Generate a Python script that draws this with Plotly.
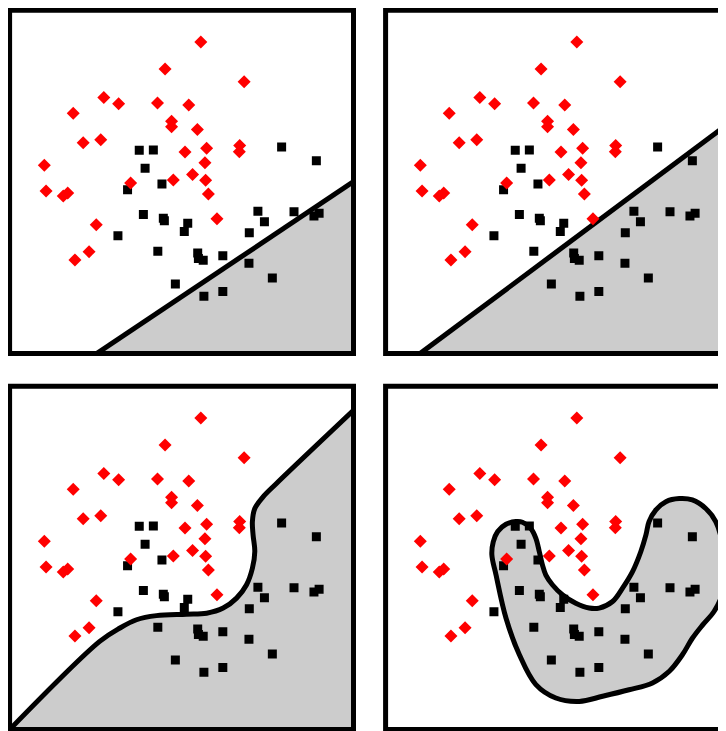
import plotly.graph_objects as go

# ---- data (panel units: frame spans 0..100 in x and y) ----
red_x = [55.6, 45.2, 68.2, 27.4, 31.7, 43.0, 52.1, 18.5, 47.1, 47.1, 54.6, 21.4, 26.5, 66.9,
         66.8, 51.0, 57.3, 10.1, 56.8, 53.2, 47.6, 57.0, 35.2, 10.6, 15.6, 16.9, 57.8, 60.3,
         25.2, 23.1, 19.0]
red_y = [90.8, 82.9, 79.2, 74.6, 72.8, 73.0, 72.4, 70.0, 67.7, 66.1, 65.3, 61.4, 62.3, 60.6,
         58.8, 58.7, 59.8, 54.9, 55.6, 52.2, 50.6, 50.5, 49.7, 47.4, 45.9, 46.8, 46.5, 39.3,
         37.5, 29.7, 27.3]

black_x = [37.7, 41.8, 39.4, 44.3, 34.3, 79.1, 89.2, 38.9, 44.7, 45.0, 51.8, 50.8, 31.5, 72.2,
           74.1, 69.7, 82.7, 88.5, 90.0, 43.1, 54.7, 54.9, 56.3, 62.0, 69.6, 76.4, 48.2, 56.5,
           62.0]
black_y = [59.2, 59.3, 54.0, 49.4, 47.7, 60.2, 56.2, 40.5, 39.4, 38.7, 38.0, 35.6, 34.3, 41.5,
           38.4, 35.2, 41.3, 40.1, 40.9, 29.8, 29.3, 27.7, 27.2, 28.5, 26.3, 22.0, 20.3, 16.7,
           18.1]

# decision boundaries
line1_x = [25.3, 100.0]
line1_y = [0.0, 50.1]
line2_x = [10.0, 100.0]
line2_y = [0.0, 67.2]
curve_x = [0.0, 26.2, 32.1, 36.9, 42.7, 51.4, 57.3, 62.1, 66.0, 68.9, 70.6, 71.3, 70.8,
           70.6, 71.3, 73.7, 77.6, 100.0]
curve_y = [0.0, 25.7, 29.6, 32.0, 33.2, 33.6, 33.9, 35.4, 38.3, 42.2, 47.0, 51.9, 56.7,
           60.6, 64.4, 67.8, 71.7, 93.0]
blob_x = [56.3, 49.5, 43.7, 38.9, 35.0, 32.1, 30.9, 31.3, 32.6, 35.0, 37.9, 39.8, 42.2, 43.7,
          44.7, 45.6, 46.6, 48.5, 51.5, 55.3, 59.2, 62.1, 66.0, 68.9, 71.8, 74.2, 75.7, 76.6,
          78.6, 81.5, 85.4, 89.2, 93.1, 96.0, 98.0, 98.4, 97.8, 95.5, 92.2, 89.2, 86.3, 82.5,
          77.6, 70.8, 63.1, 56.3]
blob_y = [8.2, 9.2, 13.1, 21.8, 32.5, 45.1, 50.9, 54.7, 57.7, 59.8, 60.6, 60.4, 58.6, 55.7,
          51.8, 48.0, 45.0, 42.2, 39.2, 36.8, 35.4, 35.4, 37.3, 41.2, 46.0, 51.8, 56.7, 60.6,
          64.0, 66.4, 67.3, 66.9, 64.4, 60.6, 53.8, 46.0, 39.2, 34.4, 30.5, 26.6, 21.8, 17.0,
          13.6, 11.6, 9.7, 8.2]

GRAY = "#cccccc"
LW = 5
W, H = 726, 731
FW, FH = 343.9, 343.3
# page body has an 8px margin, so positions are given relative to the figure origin
lefts = [1.6, 377.6]
tops = [2.3, 378.3]

fig = go.Figure()
layout = dict(width=W, height=H, margin=dict(l=0, r=0, t=0, b=0),
              paper_bgcolor="white", plot_bgcolor="white", showlegend=False)
shapes = []

panels = [(0, 0), (1, 0), (0, 1), (1, 1)]
for i, (c, r) in enumerate(panels):
    sfx = "" if i == 0 else str(i + 1)
    L, T = lefts[c], tops[r]
    x0 = L / W
    x1 = min((L + FW) / W, 1.0)
    y1 = (H - T) / H
    y0 = max((H - T - FH) / H, 0.0)
    xmax = (x1 * W - L) / FW * 100
    ymin = 100 - (y1 - y0) * H / FH * 100
    ax = dict(visible=False, showgrid=False, zeroline=False, fixedrange=True)
    layout["xaxis" + sfx] = dict(ax, domain=[x0, x1], range=[0, xmax], anchor="y" + sfx)
    layout["yaxis" + sfx] = dict(ax, domain=[y0, y1], range=[ymin, 100], anchor="x" + sfx)
    xa, ya = "x" + sfx, "y" + sfx

    if i == 0:
        fig.add_trace(go.Scatter(x=line1_x, y=line1_y, mode="lines", fill="tozeroy",
                                 fillcolor=GRAY, line=dict(color="black", width=LW),
                                 xaxis=xa, yaxis=ya, hoverinfo="skip"))
    elif i == 1:
        fig.add_trace(go.Scatter(x=line2_x, y=line2_y, mode="lines", fill="tozeroy",
                                 fillcolor=GRAY, line=dict(color="black", width=LW),
                                 xaxis=xa, yaxis=ya, hoverinfo="skip"))
    elif i == 2:
        fig.add_trace(go.Scatter(x=curve_x, y=curve_y, mode="lines", fill="tozeroy",
                                 fillcolor=GRAY,
                                 line=dict(color="black", width=LW, shape="spline"),
                                 xaxis=xa, yaxis=ya, hoverinfo="skip"))
    else:
        fig.add_trace(go.Scatter(x=blob_x, y=blob_y, mode="lines", fill="toself",
                                 fillcolor=GRAY,
                                 line=dict(color="black", width=LW, shape="spline"),
                                 xaxis=xa, yaxis=ya, hoverinfo="skip"))

    fig.add_trace(go.Scatter(x=black_x, y=black_y, mode="markers",
                             marker=dict(symbol="square", size=9, color="black",
                                         line=dict(width=0)),
                             xaxis=xa, yaxis=ya))
    fig.add_trace(go.Scatter(x=red_x, y=red_y, mode="markers",
                             marker=dict(symbol="diamond", size=10, color="red",
                                         line=dict(width=0)),
                             xaxis=xa, yaxis=ya))

    shapes.append(dict(type="rect", xref="paper", yref="paper",
                       x0=L / W, x1=(L + FW) / W,
                       y0=(H - T - FH) / H, y1=(H - T) / H,
                       line=dict(color="black", width=5), fillcolor="rgba(0,0,0,0)",
                       layer="above"))

layout["shapes"] = shapes
fig.update_layout(**layout)
fig.write_html("out.html")
